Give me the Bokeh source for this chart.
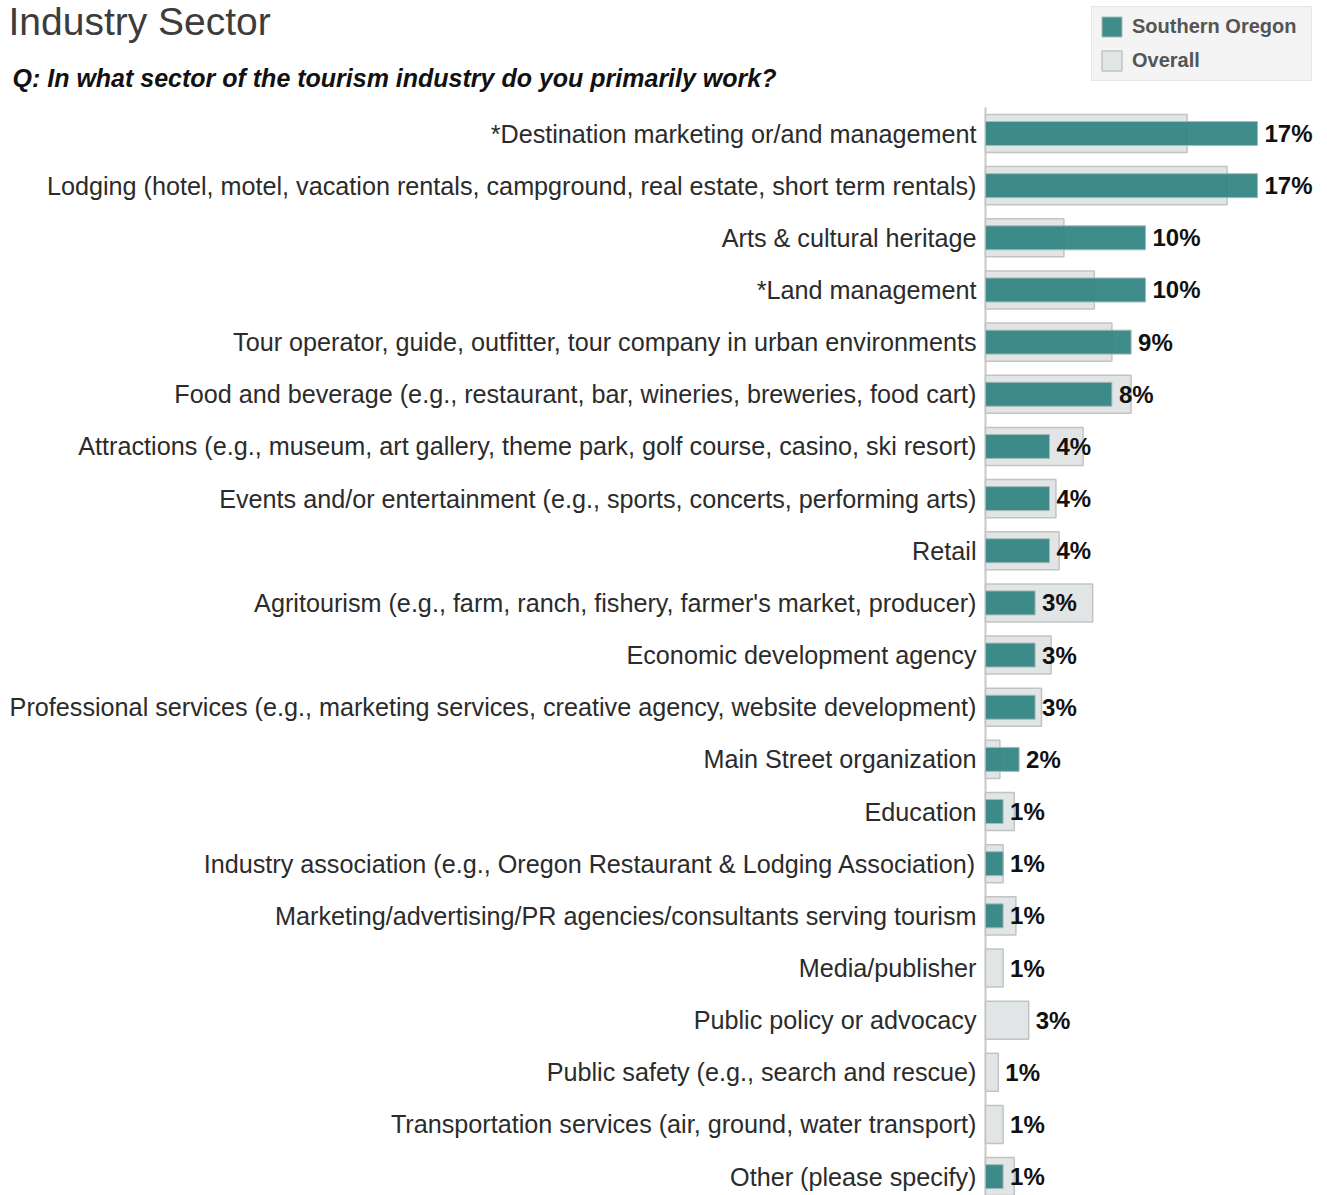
from bokeh.plotting import figure
from bokeh.models import (ColumnDataSource, Range1d, Legend, LegendItem, CDSView, BooleanFilter)
from bokeh.core.properties import value
from bokeh.embed import file_html
from bokeh.resources import INLINE

categories = [
    "*Destination marketing or/and management",
    "Lodging (hotel, motel, vacation rentals, campground, real estate, short term rentals)",
    "Arts & cultural heritage",
    "*Land management",
    "Tour operator, guide, outfitter, tour company in urban environments",
    "Food and beverage (e.g., restaurant, bar, wineries, breweries, food cart)",
    "Attractions (e.g., museum, art gallery, theme park, golf course, casino, ski resort)",
    "Events and/or entertainment (e.g., sports, concerts, performing arts)",
    "Retail",
    "Agritourism (e.g., farm, ranch, fishery, farmer's market, producer)",
    "Economic development agency",
    "Professional services (e.g., marketing services, creative agency, website development)",
    "Main Street organization",
    "Education",
    "Industry association (e.g., Oregon Restaurant & Lodging Association)",
    "Marketing/advertising/PR agencies/consultants serving tourism",
    "Media/publisher",
    "Public policy or advocacy",
    "Public safety (e.g., search and rescue)",
    "Transportation services (air, ground, water transport)",
    "Other (please specify)",
]
southern_oregon = [17.0, 17.0, 10.0, 10.0, 9.1, 7.9, 4.0, 4.0, 4.0, 3.1, 3.1, 3.1,
                   2.1, 1.1, 1.1, 1.1, 0.0, 0.0, 0.0, 0.0, 1.1]
overall = [12.6, 15.1, 4.9, 6.8, 7.9, 9.1, 6.1, 4.4, 4.6, 6.7, 4.1, 3.5,
           0.9, 1.8, 1.1, 1.9, 1.1, 2.7, 0.8, 1.1, 1.8]
value_labels = ["17%", "17%", "10%", "10%", "9%", "8%", "4%", "4%", "4%", "3%", "3%", "3%",
                "2%", "1%", "1%", "1%", "1%", "3%", "1%", "1%", "1%"]
series_names = ["Southern Oregon", "Overall"]
title_text = "Industry Sector"
subtitle_text = "Q: In what sector of the tourism industry do you primarily work?"

n = len(categories)
ypos = list(range(n))
label_x = [s if s > 0 else o for s, o in zip(southern_oregon, overall)]
anchor_x = [0] * n

src = ColumnDataSource(dict(y=ypos, so=southern_oregon, ov=overall, lx=label_x,
                            lab=value_labels, cat=categories, ax=anchor_x))

# ---- page geometry (pixels) ----
W, H = 1327, 1195
AXIS_X = 985          # where the category axis sits
PX_PER_PCT = 16.0     # horizontal scale
FIRST_ROW = 133       # centre of first row
ROW_PX = 52.157       # row pitch

FONT = "Liberation Sans"
TEAL = "#2f8381"
TEAL_LINE = "#a9b8b8"
GREY = "#e2e5e5"
GREY_LINE = "#c2c4c4"


def px_x(px):
    return (px - AXIS_X) / PX_PER_PCT


def px_y(py):
    return (py - FIRST_ROW) / ROW_PX


p = figure(width=W, height=H, output_backend="svg", toolbar_location=None,
           x_range=Range1d(px_x(0), px_x(W)), y_range=Range1d(px_y(H), px_y(0)),
           min_border=0, x_axis_location=None, y_axis_location=None)
p.outline_line_color = None
p.xgrid.visible = False
p.ygrid.visible = False

# category axis line
p.segment(x0=[0], x1=[0], y0=[ypos[0] - 0.5], y1=[ypos[-1] + 0.5],
          line_color="#c8c8c8", line_width=2)

grey = p.hbar(y="y", left=0, right="ov", height=0.73, source=src,
              fill_color=GREY, line_color=GREY_LINE, line_width=1.5)
teal_view = CDSView(filter=BooleanFilter([s > 0 for s in southern_oregon]))
teal = p.hbar(y="y", left=0, right="so", height=0.46, source=src, view=teal_view,
              fill_color=TEAL, fill_alpha=0.92, line_color=TEAL_LINE, line_width=1)

# category labels
p.text(x="ax", y="y", text="cat", source=src, x_offset=-9, text_align="right",
       text_baseline="middle", text_font=value(FONT), text_font_size="25.2px",
       text_color="#2b2b2b")

# value labels
p.text(x="lx", y="y", text="lab", source=src, x_offset=7, text_baseline="middle",
       text_align="left", text_font=value(FONT), text_font_size="24px",
       text_font_style="bold", text_color="#111111")

# title and subtitle
p.text(x=[px_x(8)], y=[px_y(21)], text=[title_text], text_font=value(FONT),
       text_font_size="39px", text_color="#3c3c3c", text_baseline="alphabetic")
p.text(x=[px_x(12)], y=[px_y(77)], text=[subtitle_text], text_font=value(FONT),
       text_font_size="25px", text_font_style="bold italic", text_color="#111111",
       text_baseline="alphabetic")

legend = Legend(items=[LegendItem(label=series_names[0], renderers=[teal]),
                       LegendItem(label=series_names[1], renderers=[grey])],
                location=(1091, H - 81), orientation="vertical",
                background_fill_color="#f4f4f4", background_fill_alpha=1.0,
                border_line_color="#d8d8d8", border_line_width=1.5,
                label_text_font=FONT, label_text_font_size="20px",
                label_text_font_style="bold", label_text_color="#555555",
                glyph_width=25, glyph_height=25, label_height=25, label_width=172,
                spacing=9, padding=7, margin=0, label_standoff=8)
p.add_layout(legend, "center")

open("out.html", "w").write(file_html(p, INLINE))
